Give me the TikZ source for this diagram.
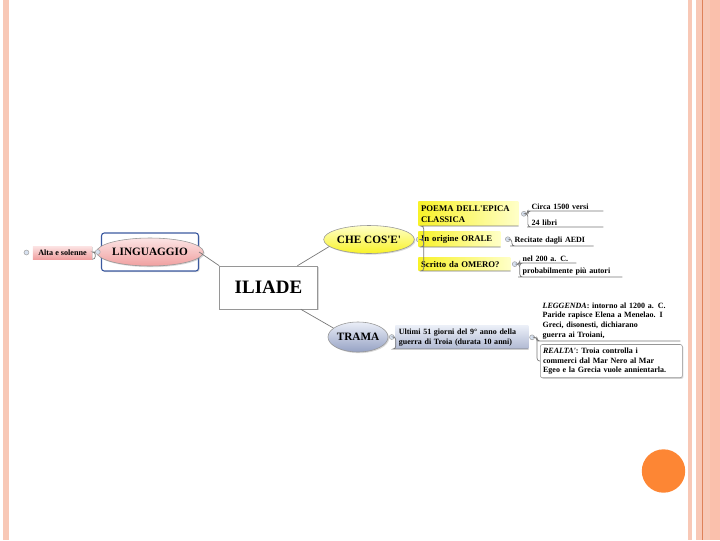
\documentclass[tikz,border=0pt]{standalone}
\usepackage{fontspec}
\setmainfont{Liberation Serif}
\usepackage{tikz}
\usetikzlibrary{positioning, shapes.geometric, shadows}
\definecolor{peach}{RGB}{248,200,182}
\definecolor{peachdark}{RGB}{250,192,172}
\definecolor{rust}{RGB}{222,130,90}
\definecolor{dotorange}{RGB}{253,134,52}
\definecolor{linkgray}{RGB}{120,120,120}
\definecolor{framegray}{RGB}{150,150,150}
\definecolor{lingblue}{RGB}{60,90,160}
\definecolor{pinklight}{RGB}{252,228,228}
\definecolor{pinkdark}{RGB}{240,160,160}
\definecolor{yellowlight}{RGB}{255,255,200}
\definecolor{yellowdark}{RGB}{248,242,40}
\definecolor{tramalight}{RGB}{234,238,247}
\definecolor{tramadark}{RGB}{150,162,196}
\definecolor{markfill}{RGB}{215,225,240}
\newcommand{\apos}{\textquotesingle}

\begin{document}
\begin{tikzpicture}[
  x=0.025cm, y=-0.025cm,
  softshadow/.style={drop shadow={shadow xshift=0.8pt, shadow yshift=-0.8pt, opacity=0.3}},
  link/.style={draw=linkgray, line width=0.5pt, rounded corners=2pt},
  central/.style={rectangle, draw=framegray, fill=white, softshadow,
                  minimum width=2.45cm, minimum height=1.075cm,
                  font=\fontsize{13.5}{15}\selectfont\bfseries},
  topic/.style={ellipse, draw=framegray, line width=0.4pt, inner sep=0pt, softshadow,
                font=\fontsize{8}{9.5}\selectfont\bfseries},
  subbox/.style={rectangle, inner xsep=2pt, inner ysep=2.5pt, align=left, anchor=south west,
                 left color=yellowdark, right color=yellowlight,
                 font=\fontsize{6.2}{7.8}\selectfont\bfseries},
  leaf/.style={rectangle, inner sep=1pt, align=left, anchor=south west,
               font=\fontsize{5.7}{7}\selectfont\bfseries},
  marker/.style={circle, draw=gray!70, fill=markfill, minimum size=3.5pt, inner sep=0pt}
]
\useasboundingbox (0,0) rectangle (720,540);

% slide frame
\fill[peach] (3,0) rectangle (9,540);
\fill[peach] (688,0) rectangle (692,540);
\fill[peach] (696,0) rectangle (720,540);
\fill[peachdark] (710,0) rectangle (720,540);
\draw[rust, line width=0.6pt] (702,0) -- (702,540);
\fill[dotorange] (663.5,471) circle (21.7);

\node[central] (iliade) at (268.5,287.5) {ILIADE};

\node[rectangle, draw=lingblue, line width=0.8pt, rounded corners=2pt, fill=white, softshadow,
      minimum width=2.425cm, minimum height=0.95cm] (lingbox) at (150,252) {};
\node[topic, top color=pinklight, bottom color=pinkdark, minimum width=2.225cm, minimum height=0.7cm]
      (ling) at (150,252) {LINGUAGGIO};
\node[rectangle, top color=pinklight, bottom color=pinkdark, softshadow, inner sep=0pt,
      minimum width=1.475cm, minimum height=0.325cm, font=\fontsize{5.8}{7}\selectfont\bfseries]
      (alta) at (62.5,252.5) {Alta e solenne};
\node[marker, left=2.5pt of alta] (mkA) {};
\node[marker, left=0.3pt of lingbox] (mkL) {};

\node[topic, top color=yellowlight, bottom color=yellowdark, minimum width=1.925cm, minimum height=0.7cm]
      (che) at (369,239.5) {CHE COS\apos E\apos};
\node[marker, right=1pt of che] (mkC) {};

\node[subbox, text width=2.36cm] (poema) at (418,226) {POEMA DELL\apos EPICA\\CLASSICA};
\node[subbox, text width=1.91cm] (origine) at (418,247) {In origine ORALE};
\node[subbox, text width=2.16cm] (scritto) at (418,271) {Scritto da OMERO?};
\node[marker, right=1.8pt of poema] (mkP) {};
\node[marker, right=3.2pt of origine] (mkO) {};
\node[marker, right=1pt of scritto] (mkS) {};

\node[leaf, text width=1.75cm] (versi) at (530,211) {Circa 1500 versi};
\node[leaf, text width=1.75cm] (libri) at (530,227) {24 libri};
\node[leaf, text width=1.93cm] (aedi) at (513,246) {Recitate dagli AEDI};
\node[leaf, text width=1.3cm] (nel) at (521,263) {nel 200 a. C.};
\node[leaf, text width=2.45cm] (autori) at (521,277) {probabilmente più autori};

\node[topic, top color=tramalight, bottom color=tramadark, minimum width=1.35cm, minimum height=0.75cm]
      (trama) at (358,337) {TRAMA};
\node[marker, right=0.5pt of trama] (mkT) {};
\node[leaf, inner xsep=2.5pt, inner ysep=2pt, text width=3.15cm, top color=tramalight, bottom color=tramadark!75]
      (ultimi) at (395,349) {Ultimi 51 giorni del 9° anno della\\guerra di Troia (durata 10 anni)};
\node[marker, right=0.5pt of ultimi] (mkU) {};
\node[leaf, text width=3.4cm] (leggenda) at (541,341)
      {\textit{LEGGENDA}: intorno al 1200 a. C.\\Paride rapisce Elena a Menelao. I\\Greci, disonesti, dichiarano\\guerra ai Troiani,};
\node[leaf, inner xsep=2pt, inner ysep=2.2pt, text width=3.41cm, draw=framegray, fill=white,
      rounded corners=1.5pt, softshadow] (realta) at (540,378)
      {\textit{REALTA\apos}: Troia controlla i\\commerci dal Mar Nero al Mar\\Egeo e la Grecia vuole annientarla.};

\draw[link] (lingbox.east) -- (iliade.north west);
\draw[link] (iliade.37) -- (che.190);
\draw[link] (iliade.-34) -- (trama.160);
\draw[link] (alta.south east) -- ++(3,0) |- (mkL);

\draw[link] (mkC) -- ++(5,0) |- (poema.south west) -- (poema.south east);
\draw[link] (mkC) -- ++(5,0) |- (origine.south west) -- (origine.south east);
\draw[link] (mkC) -- ++(5,0) |- (scritto.south west) -- (scritto.south east);
\draw[link] (mkP) -- ++(4,0) |- (versi.south west) -- (versi.south east);
\draw[link] (mkP) -- ++(4,0) |- (libri.south west) -- (libri.south east);
\draw[link] (mkO) -- ++(4,0) |- (aedi.south west) -- (aedi.south east);
\draw[link] (mkS) -- ++(5,0) |- (nel.south west) -- (nel.south east);
\draw[link] (mkS) -- ++(5,0) |- (autori.south west) -- (autori.south east);
\draw[link] (mkT) -- ++(4,0) |- (ultimi.south west) -- (ultimi.south east);
\draw[link] (mkU) -- ++(5,0) |- (leggenda.south west) -- (leggenda.south east);
\draw[link] (mkU) -- ++(5,0) |- (realta.west);
\end{tikzpicture}
\end{document}
